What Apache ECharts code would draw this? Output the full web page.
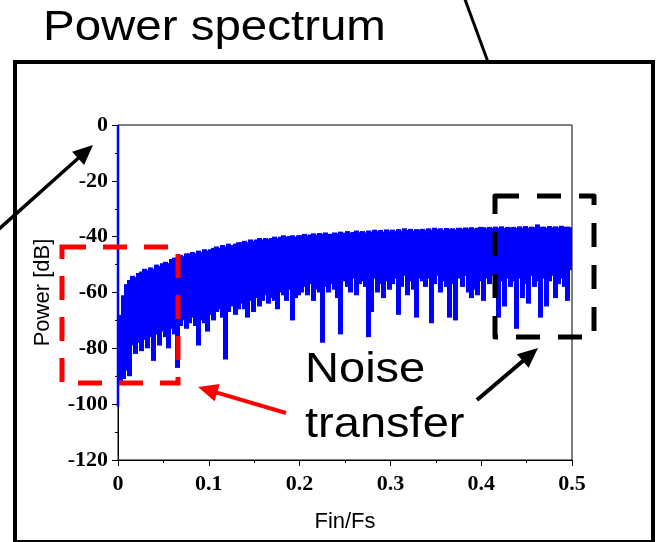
<!DOCTYPE html>
<html>
<head>
<meta charset="utf-8">
<script src="https://cdn.jsdelivr.net/npm/echarts@6/dist/echarts.min.js"></script>
<style>
  html, body { margin: 0; padding: 0; background: #fff; }
  #chart { width: 656px; height: 542px; }
</style>
</head>
<body>
<div id="chart"></div>
<script>
// DC line at f = 0 (top value, bottom value)
const dcFreq = [0, 0]
const dcDb = [0, -101]

// per-bin top of the noise band (dB), 150 bins over 0 .. 0.5
const peakDb = [
	-68, -61, -57, -55.5, -54, -54.5, -53, -52.5, -51.5, -52,
	-51, -51.5, -50, -50.5, -49.5, -49, -49.5, -48, -47.5, -47.5,
	-46.5, -47, -46, -46, -45.5, -46, -45, -45.5, -44.5, -45,
	-44.5, -44, -43.5, -44, -43, -43.5, -42.5, -43, -42.5, -42,
	-42, -41.5, -42, -41, -41.5, -41, -40.5, -41, -40.5, -40.8,
	-40.5, -40, -40.5, -40, -39.5, -40, -39.8, -39.5, -40, -39.5,
	-39.5, -39, -39.5, -39.2, -38.8, -39.3, -38.7, -39, -38.5, -39,
	-39, -38.5, -38.8, -38.2, -38.6, -38, -38.5, -38.3, -37.8, -38.4,
	-38, -38.5, -37.8, -38.2, -37.5, -38, -37.6, -38.2, -37.4, -37.8,
	-37.5, -38, -37.3, -37.8, -37, -37.6, -37.2, -37.8, -37.3, -37.5,
	-37.2, -37.6, -37, -37.5, -36.8, -37.3, -37, -37.6, -36.9, -37.2,
	-37, -37.4, -36.8, -37.2, -36.7, -37, -36.6, -37.1, -36.8, -36.5,
	-36.6, -37, -36.5, -36.9, -36.4, -36.8, -36.3, -36.9, -36.5, -36.7,
	-36.5, -36.9, -36.3, -36.7, -36.2, -36.8, -36.4, -36.6, -35.6, -36.5,
	-36.4, -36.8, -36.2, -36.6, -36.3, -36.7, -36.1, -36.5, -36.4, -36.6
]

// per-bin bottom of the noise band (dB), same bins
const dipDb = [
	-92, -91, -88, -90, -79, -82, -78, -81, -77, -80,
	-76, -84.5, -75, -79, -74, -76, -80, -73, -75, -87,
	-72, -70, -73, -71, -69, -72, -79, -70, -71, -74,
	-68, -70, -67, -66, -69, -84, -67, -65, -68, -66,
	-64, -66, -69, -63, -67, -62, -65, -63, -61, -64,
	-62, -63, -66, -60, -61, -63, -59, -70, -62, -61,
	-60, -58, -61, -57, -63, -59, -60, -78, -58, -60,
	-57, -59, -62, -75, -56, -58, -60, -55, -61, -57,
	-56, -58, -76, -67, -55, -60, -57, -62, -56, -59,
	-57, -55, -68, -58, -54, -61, -56, -59, -69, -55,
	-56, -58, -55, -71, -57, -54, -60, -56, -58, -69,
	-57, -70, -55, -58, -54, -60, -62, -59, -61, -56,
	-63, -55, -57, -54, -58, -69, -56, -65, -55, -58,
	-56, -73, -55, -62, -57, -64, -54, -58, -56, -69,
	-55, -65, -56, -54, -62, -57, -55, -58, -63, -52
]

const xRange = [0, 0.5]
const yRange = [-120, 0]

const chart = echarts.init(document.getElementById('chart'))

const binWidth = (xRange[1] - xRange[0]) / peakDb.length
const bins = peakDb.map((p, i) => [i * binWidth, (i + 1) * binWidth, p, dipDb[i]])

// straight arrow: shaft plus triangular head at (x2, y2)
function arrow(x1, y1, x2, y2, color, width) {
	const dx = x2 - x1
	const dy = y2 - y1
	const len = Math.sqrt(dx * dx + dy * dy)
	const ux = dx / len
	const uy = dy / len
	const headLen = 20
	const headHalf = 9
	const bx = x2 - ux * headLen
	const by = y2 - uy * headLen
	return [
		{
			type: 'line', z: 100,
			shape: { x1: x1, y1: y1, x2: bx + ux * 2, y2: by + uy * 2 },
			style: { stroke: color, lineWidth: width }
		},
		{
			type: 'polygon', z: 100,
			shape: { points: [[x2, y2], [bx - uy * headHalf, by + ux * headHalf], [bx + uy * headHalf, by - ux * headHalf]] },
			style: { fill: color }
		}
	]
}

const bigFont = '42px "Liberation Sans", Arial, sans-serif'

const option = {
	animation: false,
	backgroundColor: '#fff',
	grid: {
		left: 118,
		right: 84,
		top: 125,
		bottom: 82,
		show: true,
		borderColor: '#000',
		borderWidth: 1
	},
	xAxis: {
		type: 'value',
		min: xRange[0],
		max: xRange[1],
		interval: 0.1,
		name: 'Fin/Fs',
		nameLocation: 'middle',
		nameGap: 51,
		nameTextStyle: { fontFamily: '"Liberation Sans", Arial', fontSize: 22, color: '#000' },
		axisLine: { show: true, onZero: false, lineStyle: { color: '#000', width: 1 } },
		axisTick: { show: true, length: 6, lineStyle: { color: '#000' } },
		minorTick: { show: true, splitNumber: 2, length: 3, lineStyle: { color: '#000' } },
		splitLine: { show: false },
		axisLabel: {
			margin: 13,
			color: '#000',
			fontFamily: '"Liberation Serif", "Times New Roman", serif',
			fontWeight: 'bold',
			fontSize: 22,
			formatter: v => (v === 0 ? '0' : v.toFixed(1))
		}
	},
	yAxis: {
		type: 'value',
		min: yRange[0],
		max: yRange[1],
		interval: 20,
		name: 'Power [dB]',
		nameLocation: 'middle',
		nameGap: 64,
		nameTextStyle: { fontFamily: '"Liberation Sans", Arial', fontSize: 22, color: '#000' },
		axisLine: { show: true, onZero: false, lineStyle: { color: '#000', width: 1 } },
		axisTick: { show: true, length: 6, lineStyle: { color: '#000' } },
		minorTick: { show: true, splitNumber: 2, length: 3, lineStyle: { color: '#000' } },
		splitLine: { show: false },
		axisLabel: {
			margin: 10,
			color: '#000',
			fontFamily: '"Liberation Serif", "Times New Roman", serif',
			fontWeight: 'bold',
			fontSize: 22
		}
	},
	series: [
		{
			// noise band: one filled column per bin, from peak down to dip,
			// snapped to whole pixels so neighbouring columns leave no seams
			type: 'custom',
			data: bins,
			encode: { x: [0, 1], y: [2, 3] },
			clip: true,
			z: 5,
			renderItem: (params, api) => {
				const a = api.coord([api.value(0), api.value(2)])
				const b = api.coord([api.value(1), api.value(3)])
				const left = Math.floor(a[0])
				const right = Math.ceil(b[0]) + 1
				return {
					type: 'rect',
					shape: { x: left, y: a[1], width: right - left, height: b[1] - a[1] },
					style: { fill: '#0000ff', stroke: null }
				}
			}
		},
		{
			type: 'line',
			data: dcFreq.map((f, i) => [f, dcDb[i]]),
			symbol: 'none',
			clip: false,
			lineStyle: { color: '#0000ff', width: 2.5 },
			z: 6
		}
	],
	graphic: [
		// outer frame
		{
			type: 'rect', z: 90,
			shape: { x: 15, y: 62, width: 638, height: 480 },
			style: { fill: null, stroke: '#000', lineWidth: 4 }
		},
		{
			type: 'line', z: 90,
			shape: { x1: 463, y1: -6, x2: 488, y2: 62 },
			style: { stroke: '#000', lineWidth: 3 }
		},
		{
			type: 'text', z: 100, x: 43, y: 28, scaleX: 1.13,
			style: { text: 'Power spectrum', x: 0, y: 0, font: bigFont, fill: '#000', align: 'left', verticalAlign: 'middle' }
		},
		{
			type: 'text', z: 100, x: 305, y: 370, scaleX: 1.12,
			style: { text: 'Noise', x: 0, y: 0, font: bigFont, fill: '#000', align: 'left', verticalAlign: 'middle' }
		},
		{
			type: 'text', z: 100, x: 305, y: 425, scaleX: 1.12,
			style: { text: 'transfer', x: 0, y: 0, font: bigFont, fill: '#000', align: 'left', verticalAlign: 'middle' }
		},
		// dashed boxes
		{
			type: 'rect', z: 95,
			shape: { x: 62, y: 247, width: 116, height: 136 },
			style: { fill: null, stroke: '#ff0000', lineWidth: 5, lineDash: [24, 17] }
		},
		{
			type: 'rect', z: 95,
			shape: { x: 495, y: 196, width: 99, height: 141 },
			style: { fill: null, stroke: '#000', lineWidth: 5, lineDash: [24, 18], lineJoin: 'round' }
		}
	]
		.concat(arrow(-2, 230, 93, 145, '#000', 3.5))
		.concat(arrow(286, 413, 198, 387, '#ff0000', 4))
		.concat(arrow(477, 400, 538, 348, '#000', 4))
}

chart.setOption(option)
</script>
</body>
</html>
